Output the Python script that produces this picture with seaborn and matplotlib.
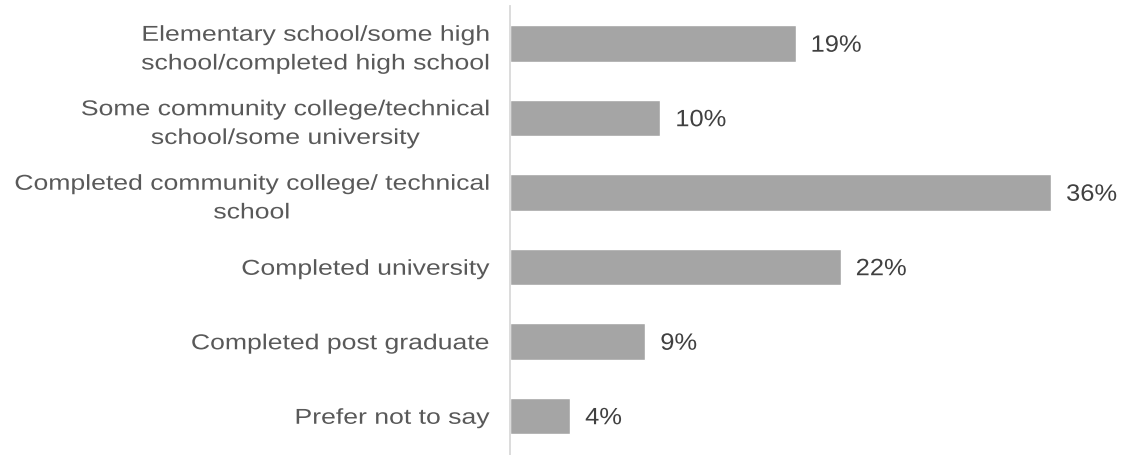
import matplotlib
matplotlib.use("Agg")
import matplotlib.pyplot as plt
from matplotlib.patheffects import AbstractPathEffect
from matplotlib.transforms import Affine2D
import seaborn as sns
import pandas as pd

categories = [
    "Elementary school/some high\nschool/completed high school",
    "Some community college/technical\nschool/some university",
    "Completed community college/ technical\nschool",
    "Completed university",
    "Completed post graduate",
    "Prefer not to say",
]
values = [19, 10, 36, 22, 9, 4]
value_labels = ["19%", "10%", "36%", "22%", "9%", "4%"]


class StretchX(AbstractPathEffect):
    """Widen text glyphs horizontally about a fixed x anchor (display px)."""

    def __init__(self, sx, anchor_x):
        super().__init__()
        self.sx = sx
        self.anchor_x = anchor_x

    def draw_path(self, renderer, gc, tpath, affine, rgbFace=None):
        extra = (Affine2D().translate(-self.anchor_x, 0)
                 .scale(self.sx, 1).translate(self.anchor_x, 0))
        renderer.draw_path(gc, tpath, affine + extra, rgbFace)


sns.set_theme(style="white")
plt.rcParams["font.family"] = ["Liberation Sans", "DejaVu Sans"]

df = pd.DataFrame({"category": categories, "value": values})

W, H, DPI = 1130, 455, 100
fig = plt.figure(figsize=(W / DPI, H / DPI), dpi=DPI)
ax_left = 510
ax = fig.add_axes([ax_left / W, 0.0, (W - ax_left) / W, 449 / H])

sns.barplot(data=df, x="value", y="category", orient="h", color="#A5A5A5",
            saturation=1, width=0.49, ax=ax)

ax.set_xlim(0, (W - ax_left) / 15.03)
ax.set_ylim(5.5 + 2 / 75.2, -0.5)

CAT_SIZE = 15.5
VAL_SIZE = 17.0
CAT_SX = 1.235
VAL_SX = 1.08

for i, (v, lab) in enumerate(zip(values, value_labels)):
    x_disp = ax.transData.transform((v, i))[0] + 15
    cap_px = 0.716 * VAL_SIZE * DPI / 72
    ax.annotate(lab, xy=(v, i), xytext=(15 * 72 / DPI, -cap_px / 2 * 72 / DPI),
                textcoords="offset points", ha="left", va="baseline",
                fontsize=VAL_SIZE, color="#404040",
                path_effects=[StretchX(VAL_SX, x_disp)])

ax.set_xlabel("")
ax.set_ylabel("")
ax.set_xticks([])
pad_px = 21
ax.tick_params(axis="y", length=0, pad=pad_px * 72 / DPI, labelsize=CAT_SIZE,
               labelcolor="#595959")
for lbl in ax.get_yticklabels():
    lbl.set_horizontalalignment("right")
    lbl.set_multialignment("center")
    lbl.set_linespacing(1.48)
    lbl.set_path_effects([StretchX(CAT_SX, ax_left - pad_px)])

for side in ["top", "right", "bottom"]:
    ax.spines[side].set_visible(False)
ax.spines["left"].set_color("#D9D9D9")
ax.spines["left"].set_linewidth(1.3)

fig.savefig("out.png", dpi=DPI)
